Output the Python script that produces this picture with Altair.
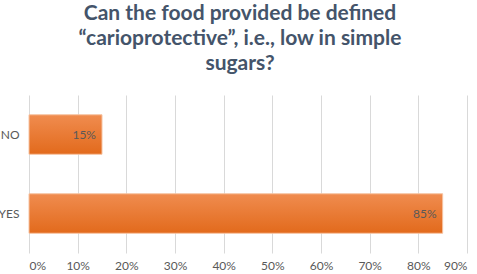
import altair as alt
import pandas as pd

categories = ["NO", "YES"]
values = [0.15, 0.85]
labels = ["15%", "85%"]

df = pd.DataFrame({"answer": categories, "share": values, "label": labels})

title_lines = ["Can the food provided be defined",
               "\u201ccarioprotective\u201d, i.e., low in simple",
               "sugars?"]

base = alt.Chart(df).encode(
    y=alt.Y("answer:N", sort=categories, title=None,
            scale=alt.Scale(paddingInner=0.5, paddingOuter=0.25),
            axis=alt.Axis(domain=False, ticks=False, labelColor="#595959",
                          labelFontSize=12, labelFont="Lato", labelPadding=10,
                          labelAlign="right")),
)

bars = base.mark_bar(
    color=alt.Gradient(gradient="linear", x1=0, x2=0, y1=0, y2=1,
                       stops=[alt.GradientStop(offset=0, color="#F08C4F"),
                              alt.GradientStop(offset=1, color="#E26A1C")]),
    stroke="#F6C3A2", strokeWidth=1,
).encode(
    x=alt.X("share:Q", title=None,
            scale=alt.Scale(domain=[0, 0.9], nice=False),
            axis=alt.Axis(format=".0%", values=[i / 10 for i in range(10)],
                          domain=False, ticks=False, gridColor="#D9D9D9",
                          labelColor="#595959", labelFontSize=12, labelFont="Lato",
                          labelPadding=7)),
)

text = base.mark_text(align="right", dx=-6, color="#595959", fontSize=12,
                      font="Lato").encode(
    x="share:Q", text="label:N")

chart = (bars + text).properties(
    width=438, height=158,
    title=alt.TitleParams(text=title_lines, fontSize=21, font="Lato",
                          fontWeight="bold", color="#44546A", lineHeight=25,
                          anchor="middle", dx=-8, offset=21),
    autosize=alt.AutoSizeParams(type="none"),
    padding={"left": 29, "top": 95, "right": 10, "bottom": 21},
).configure_view(stroke=None)

chart.save("out.html", embed_options={"renderer": "svg", "actions": False})
